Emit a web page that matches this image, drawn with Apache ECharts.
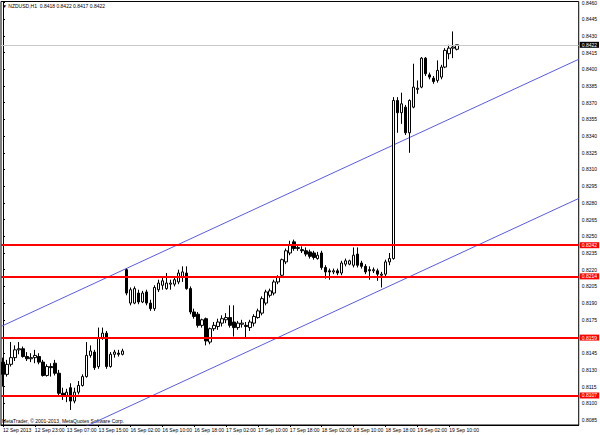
<!DOCTYPE html>
<html><head><meta charset="utf-8">
<script src="https://cdn.jsdelivr.net/npm/echarts@6/dist/echarts.min.js"></script>
<style>html,body{margin:0;padding:0;background:#fff}#c{width:600px;height:435px}</style>
</head><body><div id="c"></div>
<script>
// ---- data ----
const titleText = "\u25BC NZDUSD,H1  0.8418 0.8422 0.8417 0.8422";
const copyrightText = "MetaTrader, \u00A9 2001-2013, MetaQuotes Software Corp.";

const opens = [0.8137,0.8126,0.8135,0.8141,0.8148,0.8149,0.8142,0.8140,0.8141,0.8142,0.8137,0.8125,0.8133,0.8136,0.8127,0.8109,0.8107,0.8114,0.8102,0.8110,0.8116,0.8124,0.8143,0.8146,0.8133,0.8159,0.8163,0.8133,0.8144,0.8145,0.8144,
0.8220,0.8190,0.8190,0.8199,0.8191,0.8200,0.8190,0.8185,0.8202,0.8206,0.8203,0.8207,0.8207,0.8209,0.8213,0.8217,0.8203,0.8182,0.8180,0.8170,0.8176,0.8155,0.8167,0.8169,0.8172,0.8175,0.8177,0.8173,0.8168,0.8171,0.8170,0.8168,0.8172,0.8177,0.8181,0.8190,0.8197,0.8199,0.8209,0.8215,0.8227,0.8235,0.8245,0.8239,0.8238,0.8237,0.8236,0.8235,0.8230,0.8235,0.8222,0.8219,0.8218,0.8219,0.8217,0.8225,0.8225,0.8224,0.8234,0.8226,0.8223,0.8220,0.8219,0.8219,0.8215,0.8216,0.8227,0.8230,0.8372,0.8361,0.8366,0.8343,0.8366,0.8382,0.8384,0.8410,0.8395,0.8392,0.8390,0.8393,0.8402,0.8414,0.8419,0.8418];
const closes = [0.8126,0.8135,0.8141,0.8148,0.8149,0.8142,0.8140,0.8141,0.8143,0.8137,0.8125,0.8133,0.8132,0.8127,0.8109,0.8107,0.8110,0.8102,0.8110,0.8116,0.8124,0.8143,0.8147,0.8132,0.8159,0.8163,0.8133,0.8144,0.8146,0.8144,0.8147,
0.8199,0.8202,0.8203,0.8191,0.8199,0.8190,0.8185,0.8204,0.8208,0.8210,0.8208,0.8208,0.8211,0.8217,0.8218,0.8203,0.8182,0.8178,0.8170,0.8175,0.8156,0.8167,0.8170,0.8173,0.8176,0.8177,0.8170,0.8168,0.8172,0.8172,0.8169,0.8173,0.8178,0.8183,0.8194,0.8200,0.8201,0.8209,0.8213,0.8229,0.8237,0.8242,0.8239,0.8240,0.8237,0.8234,0.8232,0.8231,0.8233,0.8222,0.8218,0.8218,0.8219,0.8217,0.8226,0.8228,0.8228,0.8233,0.8224,0.8223,0.8218,0.8219,0.8220,0.8216,0.8216,0.8227,0.8230,0.8372,0.8361,0.8369,0.8343,0.8372,0.8384,0.8383,0.8410,0.8396,0.8393,0.8389,0.8399,0.8402,0.8417,0.8419,0.8420,0.8422];
const lows = [0.8115,0.8124,0.8133,0.8138,0.8144,0.8141,0.8138,0.8137,0.8136,0.8135,0.8124,0.8124,0.8124,0.8125,0.8107,0.8103,0.8101,0.8094,0.8100,0.8108,0.8115,0.8123,0.8141,0.8130,0.8131,0.8157,0.8131,0.8132,0.8141,0.8142,0.8143,
0.8197,0.8188,0.8189,0.8189,0.8190,0.8188,0.8183,0.8183,0.8200,0.8202,0.8202,0.8202,0.8205,0.8207,0.8209,0.8202,0.8180,0.8176,0.8168,0.8168,0.8152,0.8153,0.8165,0.8166,0.8169,0.8172,0.8168,0.8160,0.8166,0.8168,0.8158,0.8165,0.8169,0.8176,0.8179,0.8188,0.8195,0.8197,0.8207,0.8213,0.8225,0.8233,0.8237,0.8237,0.8235,0.8232,0.8230,0.8229,0.8229,0.8220,0.8212,0.8211,0.8216,0.8215,0.8215,0.8223,0.8224,0.8222,0.8222,0.8221,0.8216,0.8211,0.8217,0.8210,0.8204,0.8214,0.8224,0.8229,0.8343,0.8351,0.8341,0.8325,0.8365,0.8378,0.8383,0.8394,0.8391,0.8387,0.8388,0.8391,0.8401,0.8409,0.8410,0.8417];
const highs = [0.8141,0.8139,0.8155,0.8152,0.8155,0.8151,0.8146,0.8145,0.8148,0.8145,0.8139,0.8135,0.8136,0.8139,0.8130,0.8114,0.8113,0.8118,0.8114,0.8120,0.8126,0.8155,0.8152,0.8148,0.8168,0.8168,0.8165,0.8146,0.8148,0.8148,0.8149,
0.8221,0.8204,0.8205,0.8202,0.8201,0.8202,0.8193,0.8206,0.8211,0.8214,0.8217,0.8211,0.8213,0.8220,0.8223,0.8223,0.8205,0.8185,0.8182,0.8176,0.8177,0.8168,0.8173,0.8176,0.8179,0.8181,0.8188,0.8188,0.8174,0.8175,0.8173,0.8175,0.8180,0.8185,0.8196,0.8202,0.8203,0.8211,0.8215,0.8230,0.8239,0.8246,0.8247,0.8242,0.8241,0.8240,0.8238,0.8237,0.8236,0.8237,0.8224,0.8221,0.8221,0.8221,0.8228,0.8230,0.8229,0.8240,0.8240,0.8228,0.8225,0.8223,0.8222,0.8221,0.8218,0.8229,0.8235,0.8375,0.8375,0.8379,0.8368,0.8373,0.8405,0.8390,0.8411,0.8411,0.8397,0.8394,0.8408,0.8404,0.8419,0.8422,0.8434,0.8422];

const xTickLabels = ["12 Sep 2013","12 Sep 23:00","13 Sep 07:00","13 Sep 15:00","16 Sep 02:00","16 Sep 10:00","16 Sep 18:00","17 Sep 02:00","17 Sep 10:00","17 Sep 18:00","18 Sep 02:00","18 Sep 10:00","18 Sep 18:00","19 Sep 02:00","19 Sep 10:00"];
const xTickStep = 8;          // bars between time labels
const totalSlots = 145;       // bars + chart-shift empty space
const yTickValues = [0.8460,0.8445,0.8430,0.8415,0.8400,0.8385,0.8370,0.8355,0.8340,0.8325,0.8310,0.8295,0.8280,0.8265,0.8250,0.8235,0.8220,0.8205,0.8190,0.8175,0.8145,0.8130,0.8115,0.8100,0.8085];
const yMin = 0.80805, yMax = 0.84609;
const levelLines = [0.8242, 0.8214, 0.8159, 0.8107];
const currentPrice = 0.8422;
const channelUpper = [[-0.5, 0.8169], [144.5, 0.8409]];
const channelLower = [[-0.5, 0.8044], [144.5, 0.8284]];

// ---- build ----
const slots = [];
for (let i = 0; i < totalSlots; i++) slots.push(String(i));
const candles = opens.map((o, i) => [o, closes[i], lows[i], highs[i]]);
const FONT = 'Liberation Sans';
const showTick = (idx) => idx % xTickStep === 0 && idx / xTickStep < xTickLabels.length;

const chart = echarts.init(document.getElementById('c'), null, {renderer: 'svg'});
chart.setOption({
  animation: false,
  backgroundColor: '#ffffff',
  grid: {left: 0, right: 21, top: 1, bottom: 10, show: true, borderColor: '#000', borderWidth: 1},
  xAxis: [{
    type: 'category', data: slots, boundaryGap: true,
    axisLine: {show: true, lineStyle: {color: '#000', width: 1}},
    axisTick: {show: true, alignWithLabel: true, interval: showTick, length: 2, lineStyle: {color: '#000'}},
    axisLabel: {interval: showTick, formatter: (v, idx) => xTickLabels[Math.round(Number(v) / xTickStep)] || '',
      align: 'left', fontSize: 5, fontFamily: FONT, color: '#000', margin: 2},
    splitLine: {show: false}
  }, {
    type: 'value', min: -0.5, max: totalSlots - 0.5, show: false
  }],
  yAxis: {
    type: 'value', position: 'right', min: yMin, max: yMax, scale: true,
    axisLine: {show: true, lineStyle: {color: '#000', width: 1}},
    axisTick: {show: true, length: 2, customValues: yTickValues, lineStyle: {color: '#000'}},
    axisLabel: {customValues: yTickValues, formatter: v => v.toFixed(4), fontSize: 5, fontFamily: FONT, color: '#000', margin: 3},
    splitLine: {show: false}
  },
  graphic: [
    {type: 'text', left: 2, top: 3, style: {text: titleText, font: '5px ' + FONT, fill: '#000'}},
    {type: 'text', left: 2, top: 418, style: {text: copyrightText, font: '5px ' + FONT, fill: '#000'}}
  ],
  series: [
    {
      type: 'line', xAxisIndex: 1, data: channelUpper, symbol: 'none', silent: true, clip: true,
      lineStyle: {color: '#5b5be8', width: 1}, z: 1
    },
    {
      type: 'line', xAxisIndex: 1, data: channelLower, symbol: 'none', silent: true, clip: true,
      lineStyle: {color: '#5b5be8', width: 1}, z: 1
    },
    {
      type: 'candlestick', data: candles, barWidth: 3, silent: true, z: 3,
      itemStyle: {color: '#ffffff', color0: '#000000', borderColor: '#000000', borderColor0: '#000000', borderWidth: 1},
      markLine: {
        silent: true, symbol: 'none', animation: false, precision: 4,
        data: levelLines.map(v => ({
          yAxis: v,
          lineStyle: {color: '#ff0000', width: 2, type: 'solid'},
          label: {show: true, position: 'end', distance: 1, formatter: v.toFixed(4), color: '#fff',
            backgroundColor: '#ff0000', fontSize: 5, fontFamily: FONT, padding: [1, 2, 0, 2]}
        })).concat([{
          yAxis: currentPrice,
          lineStyle: {color: '#c8c8c8', width: 1, type: 'solid'},
          label: {show: true, position: 'end', distance: 1, formatter: currentPrice.toFixed(4), color: '#fff',
            backgroundColor: '#000000', fontSize: 5, fontFamily: FONT, padding: [1, 2, 0, 2]}
        }])
      }
    }
  ]
});
</script>
</body></html>
